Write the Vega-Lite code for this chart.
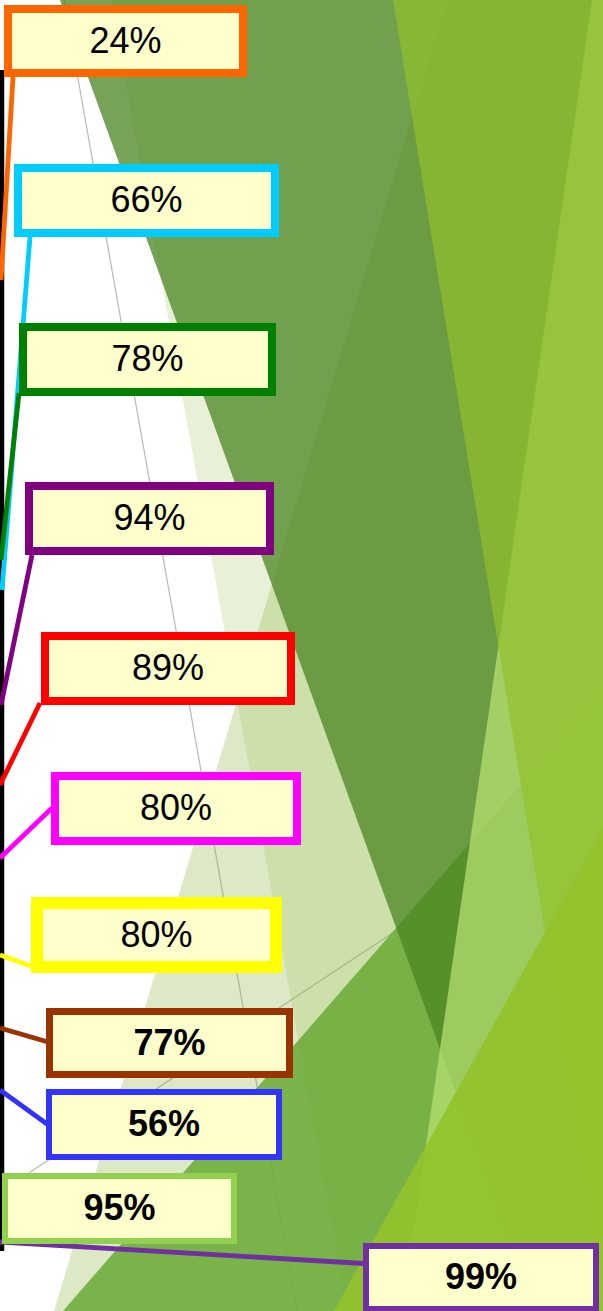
{
  "$schema": "https://vega.github.io/schema/vega-lite/v6.json",
  "width": 603,
  "height": 1311,
  "autosize": {"type": "none"},
  "padding": 0,
  "background": "#ffffff",
  "config": {"view": {"stroke": null}},
  "datasets": {
    "facets": [
      {"s": "PD", "k": 1, "x": 111, "y": 0}, {"s": "PD", "k": 2, "x": 603, "y": 0}, {"s": "PD", "k": 3, "x": 603, "y": 1311}, {"s": "PD", "k": 4, "x": 347, "y": 1311},
      {"s": "PC", "k": 1, "x": 447, "y": 0}, {"s": "PC", "k": 2, "x": 603, "y": 0}, {"s": "PC", "k": 3, "x": 603, "y": 1311}, {"s": "PC", "k": 4, "x": 54, "y": 1311},
      {"s": "PE", "k": 1, "x": 63, "y": 1311}, {"s": "PE", "k": 2, "x": 603, "y": 690}, {"s": "PE", "k": 3, "x": 603, "y": 1311},
      {"s": "P1", "k": 1, "x": 60, "y": 0}, {"s": "P1", "k": 2, "x": 603, "y": 0}, {"s": "P1", "k": 3, "x": 603, "y": 1311}, {"s": "P1", "k": 4, "x": 535, "y": 1311},
      {"s": "Q3", "k": 1, "x": 592, "y": 0}, {"s": "Q3", "k": 2, "x": 603, "y": 0}, {"s": "Q3", "k": 3, "x": 603, "y": 1311}, {"s": "Q3", "k": 4, "x": 402, "y": 1311},
      {"s": "Q2", "k": 1, "x": 393, "y": 0}, {"s": "Q2", "k": 2, "x": 603, "y": 0}, {"s": "Q2", "k": 3, "x": 603, "y": 1288},
      {"s": "PF", "k": 1, "x": 334, "y": 1311}, {"s": "PF", "k": 2, "x": 603, "y": 828}, {"s": "PF", "k": 3, "x": 603, "y": 1311}
    ],
    "guides": [
      {"g": "G1", "x": 64, "y": 0, "x2": 297, "y2": 1311},
      {"g": "G2", "x": 0, "y": 1192, "x2": 470, "y2": 882}
    ],
    "axisline": [{"x": 2, "y": 70, "y2": 1251}],
    "leaders": [
      {"id": "s1", "x": 13, "y": 77, "x2": 1, "y2": 280},
      {"id": "s2", "x": 30, "y": 237, "x2": 2, "y2": 590},
      {"id": "s3", "x": 19, "y": 393, "x2": 1, "y2": 560},
      {"id": "s4", "x": 32, "y": 555, "x2": 1, "y2": 705},
      {"id": "s5", "x": 40, "y": 703, "x2": 0, "y2": 785},
      {"id": "s6", "x": 52, "y": 808, "x2": 0, "y2": 858},
      {"id": "s7", "x": 31, "y": 966, "x2": 0, "y2": 955},
      {"id": "s8", "x": 55, "y": 1044, "x2": 0, "y2": 1028},
      {"id": "s9", "x": 47, "y": 1124, "x2": 0, "y2": 1090},
      {"id": "s11", "x": 372, "y": 1264, "x2": 0, "y2": 1242}
    ],
    "callouts": [
      {"id": "s1", "label": "24%", "left": 8, "right": 243, "top": 9, "bottom": 73, "lx": 125.5, "ly": 42},
      {"id": "s2", "label": "66%", "left": 18, "right": 275, "top": 168, "bottom": 233, "lx": 146.5, "ly": 201},
      {"id": "s3", "label": "78%", "left": 23, "right": 272, "top": 327, "bottom": 392, "lx": 147.5, "ly": 360},
      {"id": "s4", "label": "94%", "left": 29, "right": 270, "top": 486, "bottom": 551, "lx": 149.5, "ly": 519},
      {"id": "s5", "label": "89%", "left": 45, "right": 291, "top": 636, "bottom": 701, "lx": 168, "ly": 669},
      {"id": "s6", "label": "80%", "left": 55, "right": 297, "top": 776, "bottom": 841, "lx": 176, "ly": 809},
      {"id": "s7", "label": "80%", "left": 37, "right": 276, "top": 903, "bottom": 967, "lx": 156.5, "ly": 935.5},
      {"id": "s8", "label": "77%", "left": 49.5, "right": 289.5, "top": 1011.5, "bottom": 1074.5, "lx": 169.5, "ly": 1043.5},
      {"id": "s9", "label": "56%", "left": 49, "right": 279, "top": 1092, "bottom": 1157, "lx": 164, "ly": 1125},
      {"id": "s10", "label": "95%", "left": 5, "right": 234, "top": 1176, "bottom": 1241, "lx": 119.5, "ly": 1209},
      {"id": "s11", "label": "99%", "left": 366, "right": 596, "top": 1246, "bottom": 1309, "lx": 481, "ly": 1278}
    ]
  },
  "encoding": {
    "x": {"field": "x", "type": "quantitative", "scale": {"domain": [0, 603], "nice": false, "zero": false}, "axis": null},
    "y": {"field": "y", "type": "quantitative", "scale": {"domain": [0, 1311], "reverse": true, "nice": false, "zero": false}, "axis": null}
  },
  "layer": [
    {
      "data": {"name": "guides"},
      "mark": {"type": "rule", "color": "#bdbdbd", "strokeWidth": 1.3, "clip": true},
      "encoding": {"x2": {"field": "x2"}, "y2": {"field": "y2"}}
    },
    {
      "data": {"name": "facets"}, "transform": [{"filter": "datum.s == 'PD'"}],
      "mark": {"type": "line", "fill": "#8ab83a", "fillOpacity": 0.2, "strokeWidth": 0, "clip": true},
      "encoding": {"order": {"field": "k"}}
    },
    {
      "data": {"name": "facets"}, "transform": [{"filter": "datum.s == 'PC'"}],
      "mark": {"type": "line", "fill": "#8eb641", "fillOpacity": 0.3, "strokeWidth": 0, "clip": true},
      "encoding": {"order": {"field": "k"}}
    },
    {
      "data": {"name": "facets"}, "transform": [{"filter": "datum.s == 'PE'"}],
      "mark": {"type": "line", "fill": "#6fad3b", "fillOpacity": 0.9, "strokeWidth": 0, "clip": true},
      "encoding": {"order": {"field": "k"}}
    },
    {
      "data": {"name": "facets"}, "transform": [{"filter": "datum.s == 'P1'"}],
      "mark": {"type": "line", "fill": "#4a8420", "fillOpacity": 0.75, "strokeWidth": 0, "clip": true},
      "encoding": {"order": {"field": "k"}}
    },
    {
      "data": {"name": "facets"}, "transform": [{"filter": "datum.s == 'Q3'"}],
      "mark": {"type": "line", "fill": "#b7df72", "fillOpacity": 0.75, "strokeWidth": 0, "clip": true},
      "encoding": {"order": {"field": "k"}}
    },
    {
      "data": {"name": "facets"}, "transform": [{"filter": "datum.s == 'Q2'"}],
      "mark": {"type": "line", "fill": "#93c12c", "fillOpacity": 0.7, "strokeWidth": 0, "clip": true},
      "encoding": {"order": {"field": "k"}}
    },
    {
      "data": {"name": "facets"}, "transform": [{"filter": "datum.s == 'PF'"}],
      "mark": {"type": "line", "fill": "#93c22b", "fillOpacity": 0.9, "strokeWidth": 0, "clip": true},
      "encoding": {"order": {"field": "k"}}
    },
    {
      "data": {"name": "axisline"},
      "mark": {"type": "rule", "color": "#000000", "strokeWidth": 4.5},
      "encoding": {"y2": {"field": "y2"}}
    },
    {
      "data": {"name": "leaders"},
      "mark": {"type": "rule", "strokeWidth": 4.8},
      "encoding": {
        "x2": {"field": "x2"}, "y2": {"field": "y2"},
        "color": {"field": "id", "type": "nominal", "legend": null,
          "scale": {"domain": ["s1","s2","s3","s4","s5","s6","s7","s8","s9","s10","s11"],
                    "range": ["#ff6600","#00ccff","#008000","#800080","#ff0000","#ff00ff","#ffff00","#993300","#3333ff","#92d050","#7030a0"]}}
      }
    },
    {
      "data": {"name": "callouts"}, "transform": [{"filter": "indexof(['s1','s2','s3','s4','s5','s6'], datum.id) >= 0"}],
      "mark": {"type": "rect", "fill": "#ffffcc", "strokeWidth": 8},
      "encoding": {
        "x": {"field": "left", "type": "quantitative"}, "x2": {"field": "right"},
        "y": {"field": "top", "type": "quantitative"}, "y2": {"field": "bottom"},
        "stroke": {"field": "id", "type": "nominal", "legend": null,
          "scale": {"domain": ["s1","s2","s3","s4","s5","s6","s7","s8","s9","s10","s11"],
                    "range": ["#ff6600","#00ccff","#008000","#800080","#ff0000","#ff00ff","#ffff00","#993300","#3333ff","#92d050","#7030a0"]}}
      }
    },
    {
      "data": {"name": "callouts"}, "transform": [{"filter": "datum.id == 's7'"}],
      "mark": {"type": "rect", "fill": "#ffffcc", "strokeWidth": 12},
      "encoding": {
        "x": {"field": "left", "type": "quantitative"}, "x2": {"field": "right"},
        "y": {"field": "top", "type": "quantitative"}, "y2": {"field": "bottom"},
        "stroke": {"field": "id", "type": "nominal", "legend": null}
      }
    },
    {
      "data": {"name": "callouts"}, "transform": [{"filter": "datum.id == 's8'"}],
      "mark": {"type": "rect", "fill": "#ffffcc", "strokeWidth": 7},
      "encoding": {
        "x": {"field": "left", "type": "quantitative"}, "x2": {"field": "right"},
        "y": {"field": "top", "type": "quantitative"}, "y2": {"field": "bottom"},
        "stroke": {"field": "id", "type": "nominal", "legend": null}
      }
    },
    {
      "data": {"name": "callouts"}, "transform": [{"filter": "indexof(['s9','s10','s11'], datum.id) >= 0"}],
      "mark": {"type": "rect", "fill": "#ffffcc", "strokeWidth": 6},
      "encoding": {
        "x": {"field": "left", "type": "quantitative"}, "x2": {"field": "right"},
        "y": {"field": "top", "type": "quantitative"}, "y2": {"field": "bottom"},
        "stroke": {"field": "id", "type": "nominal", "legend": null}
      }
    },
    {
      "data": {"name": "callouts"}, "transform": [{"filter": "indexof(['s1','s2','s3','s4','s5','s6','s7'], datum.id) >= 0"}],
      "mark": {"type": "text", "font": "Liberation Sans", "fontSize": 36, "color": "#000000", "align": "center", "baseline": "middle"},
      "encoding": {
        "x": {"field": "lx", "type": "quantitative"},
        "y": {"field": "ly", "type": "quantitative"},
        "text": {"field": "label"}
      }
    },
    {
      "data": {"name": "callouts"}, "transform": [{"filter": "indexof(['s8','s9','s10','s11'], datum.id) >= 0"}],
      "mark": {"type": "text", "font": "Liberation Sans", "fontSize": 36, "fontWeight": "bold", "color": "#000000", "align": "center", "baseline": "middle"},
      "encoding": {
        "x": {"field": "lx", "type": "quantitative"},
        "y": {"field": "ly", "type": "quantitative"},
        "text": {"field": "label"}
      }
    }
  ]
}
